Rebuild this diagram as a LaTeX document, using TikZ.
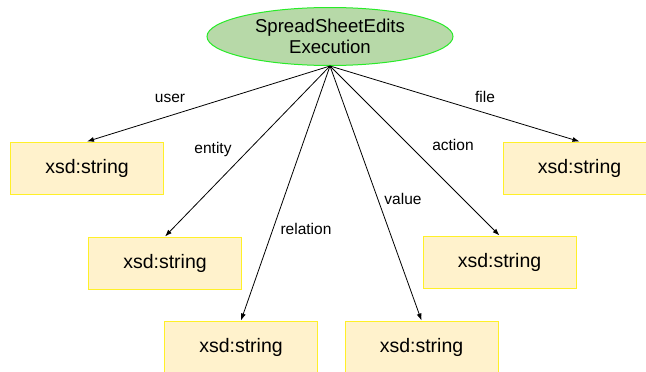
\documentclass[tikz,border=0pt]{standalone}
\usepackage{fontspec}
\setmainfont{Liberation Sans}
\usetikzlibrary{shapes.geometric,arrows.meta}
\definecolor{ellfill}{RGB}{183,217,168}
\definecolor{elldraw}{RGB}{40,235,40}
\definecolor{boxfill}{RGB}{255,242,204}
\definecolor{boxdraw}{RGB}{255,240,40}
\tikzset{
  classnode/.style={ellipse, draw=elldraw, fill=ellfill, line width=1pt,
    minimum width=246pt, minimum height=58pt, inner sep=0pt, align=center,
    font=\fontsize{18.6}{21}\selectfont},
  typebox/.style={rectangle, draw=boxdraw, fill=boxfill, line width=1pt,
    minimum width=153pt, minimum height=52pt, inner sep=0pt,
    font=\fontsize{19.5}{22}\selectfont},
  rel/.style={draw=black, line width=0.8pt, -{Latex[length=7pt,width=5pt]}},
  rellabel/.style={font=\fontsize{15.5}{18}\selectfont, inner sep=1pt}
}
\begin{document}
\begin{tikzpicture}[x=1pt,y=-1pt]
\useasboundingbox (0,0) rectangle (646,372);
\clip (0,0) rectangle (646,372);
\node[classnode] (exec) at (330,36.5) {SpreadSheetEdits\\Execution};
\coordinate (hub) at (330,66);
\node[typebox] (user) at (87,168) {xsd:string};
\node[typebox] (entity) at (165,263) {xsd:string};
\node[typebox] (relation) at (241,347) {xsd:string};
\node[typebox] (value) at (421.5,347) {xsd:string};
\node[typebox] (action) at (499.5,262) {xsd:string};
\node[typebox] (file) at (579.5,168) {xsd:string};
\draw[rel] (hub) -- (user.north);
\draw[rel] (hub) -- (entity.north);
\draw[rel] (hub) -- (relation.north);
\draw[rel] (hub) -- (value.north);
\draw[rel] (hub) -- (action.north);
\draw[rel] (hub) -- (file.north);
\node[rellabel] (luser) at (170,98) {user};
\node[rellabel] (lentity) at (213,149) {entity};
\node[rellabel] (lrelation) at (306,229) {relation};
\node[rellabel] (lvalue) at (403,199) {value};
\node[rellabel] (laction) at (453,145) {action};
\node[rellabel] (lfile) at (485,97) {file};
\end{tikzpicture}
\end{document}
